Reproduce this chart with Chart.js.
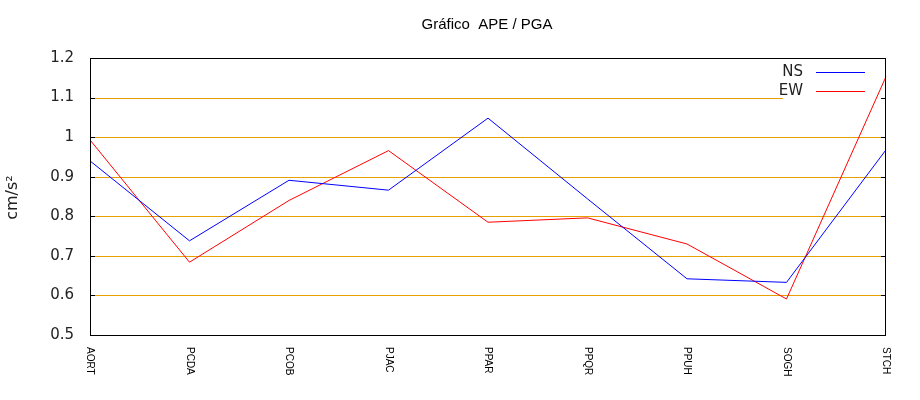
<!DOCTYPE html>
<html>
<head>
<meta charset="utf-8">
<script src="https://cdn.jsdelivr.net/npm/chart.js@4/dist/chart.umd.min.js"></script>
<style>
html,body{margin:0;padding:0;background:#fff;}
#wrap{width:920px;height:400px;position:relative;}
</style>
</head>
<body>
<div id="wrap"><canvas id="c" width="920" height="400"></canvas></div>
<script>
const chartTitle = 'Gráfico  APE / PGA';
const yAxisTitle = 'cm/s²';
const categories = ['AORT','PCDA','PCOB','PJAC','PPAR','PPQR','PPUH','SOGH','STCH'];
const nsValues = [0.940, 0.738, 0.891, 0.866, 1.048, 0.844, 0.642, 0.633, 0.968];
const ewValues = [0.993, 0.684, 0.840, 0.966, 0.785, 0.796, 0.730, 0.591, 1.153];
const seriesLabels = ['NS', 'EW'];
const seriesColors = ['#0000ff', '#ff0000'];
const yMin = 0.5, yMax = 1.2, yStep = 0.1;

const gridColor = 'rgb(230,160,0)';

const customDraw = {
  id: 'customDraw',
  beforeDatasetsDraw(chart) {
    const {ctx, chartArea: a, scales: {y}} = chart;
    ctx.save();
    ctx.lineWidth = 1;
    // gridlines (pixel aligned)
    ctx.strokeStyle = gridColor;
    y.ticks.forEach(t => {
      if (Math.abs(t.value - yMin) < 1e-6 || Math.abs(t.value - yMax) < 1e-6) return;
      const p = Math.round(y.getPixelForValue(t.value)) + 0.5;
      ctx.beginPath();
      ctx.moveTo(a.left, p); ctx.lineTo(a.right, p);
      ctx.stroke();
    });
    // legend background (opaque like gnuplot key)
    ctx.fillStyle = '#fff';
    ctx.fillRect(a.right - 103, a.top + 3, 98, 44);
    // inward tick marks
    ctx.strokeStyle = '#000';
    y.ticks.forEach(t => {
      const p = Math.round(y.getPixelForValue(t.value)) + 0.5;
      ctx.beginPath();
      ctx.moveTo(a.left, p); ctx.lineTo(a.left + 5, p);
      ctx.moveTo(a.right - 5, p); ctx.lineTo(a.right, p);
      ctx.stroke();
    });
    ctx.restore();
  },
  afterDatasetsDraw(chart) {
    const {ctx, chartArea: a, scales: {x}} = chart;
    ctx.save();
    // border
    ctx.strokeStyle = '#000';
    ctx.lineWidth = 1;
    ctx.strokeRect(Math.round(a.left) + 0.5, Math.round(a.top) + 0.5,
                   Math.round(a.right - a.left) - 1, Math.round(a.bottom - a.top));
    // title
    ctx.fillStyle = '#000';
    ctx.font = '15px "Liberation Sans", Arial, sans-serif';
    ctx.textAlign = 'center';
    ctx.textBaseline = 'middle';
    ctx.fillText(chartTitle, (a.left + a.right) / 2 - 1, 25);
    // y axis title
    ctx.save();
    ctx.translate(13, (a.top + a.bottom) / 2 + 1);
    ctx.rotate(-Math.PI / 2);
    ctx.font = '16px "DejaVu Sans", sans-serif';
    ctx.fillStyle = '#222';
    ctx.fillText(yAxisTitle, 0, 0);
    ctx.restore();
    // x labels rotated clockwise
    ctx.font = '10px "Liberation Sans", Arial, sans-serif';
    ctx.fillStyle = '#000';
    chart.data.labels.forEach((lab, i) => {
      const px = x.getPixelForValue(i);
      ctx.save();
      ctx.translate(px, a.bottom + 12);
      ctx.rotate(Math.PI / 2);
      ctx.textAlign = 'left';
      ctx.textBaseline = 'middle';
      ctx.fillText(lab, 0, 0);
      ctx.restore();
    });
    // legend
    ctx.font = '15px "DejaVu Sans", sans-serif';
    ctx.textAlign = 'right';
    ctx.textBaseline = 'middle';
    chart.data.datasets.forEach((ds, i) => {
      const yy = a.top + 14 + i * 19;
      ctx.fillStyle = '#222';
      ctx.fillText(ds.label, a.right - 83, yy);
      ctx.strokeStyle = ds.borderColor;
      ctx.beginPath();
      ctx.moveTo(a.right - 70, Math.round(yy) + 0.5);
      ctx.lineTo(a.right - 21, Math.round(yy) + 0.5);
      ctx.stroke();
    });
    ctx.restore();
  }
};

new Chart(document.getElementById('c'), {
  type: 'line',
  data: {
    labels: categories,
    datasets: [
      {label: seriesLabels[0], data: nsValues, borderColor: seriesColors[0], borderWidth: 1, pointRadius: 0, tension: 0, fill: false},
      {label: seriesLabels[1], data: ewValues, borderColor: seriesColors[1], borderWidth: 1, pointRadius: 0, tension: 0, fill: false}
    ]
  },
  options: {
    responsive: false,
    animation: false,
    devicePixelRatio: 1,
    layout: {padding: {left: 0, right: 34, top: 58, bottom: 65}},
    plugins: {legend: {display: false}, title: {display: false}, tooltip: {enabled: false}},
    scales: {
      x: {display: false, offset: false},
      y: {
        min: yMin, max: yMax,
        afterFit(s) { s.width = 90; },
        border: {display: false},
        grid: {display: false, drawTicks: false},
        ticks: {
          stepSize: yStep,
          padding: 16,
          color: '#222',
          font: {family: '"DejaVu Sans", sans-serif', size: 15},
          callback: v => String(Number(v.toFixed(1)))
        }
      }
    }
  },
  plugins: [customDraw]
});
</script>
</body>
</html>
